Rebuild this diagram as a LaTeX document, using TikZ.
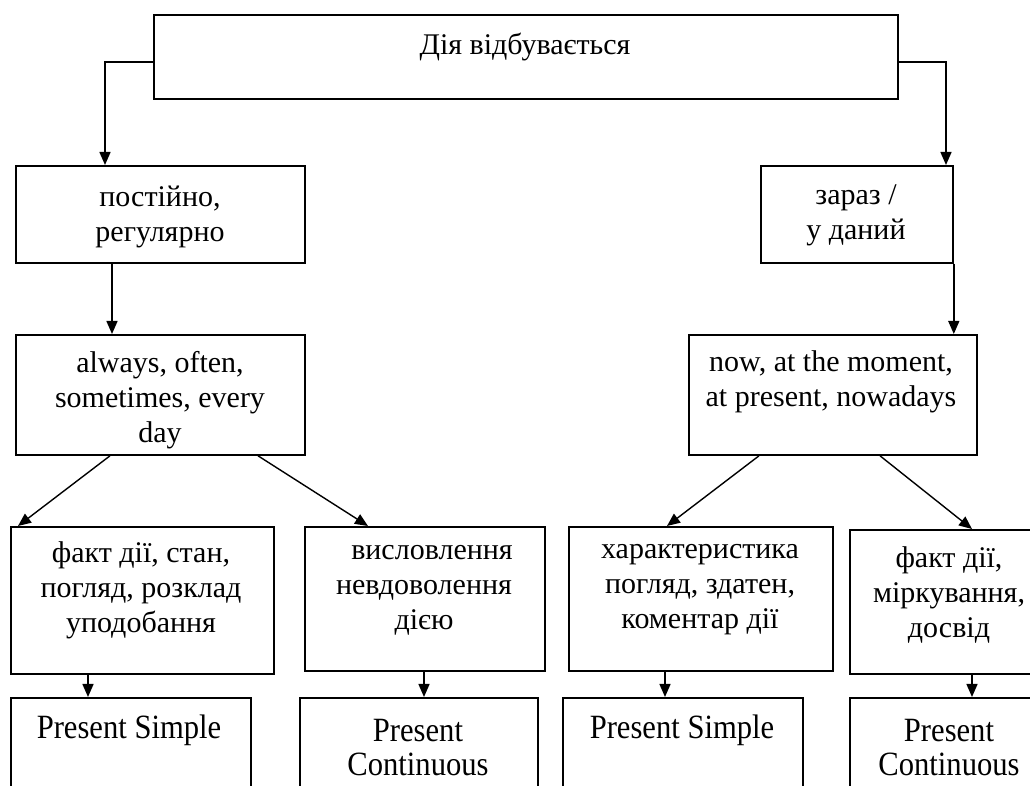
\documentclass[tikz,border=0pt]{standalone}
\usepackage{fontspec}
\setmainfont{Liberation Serif}
\newfontfamily\tensefont[FakeStretch=0.9]{Liberation Serif}
\usetikzlibrary{arrows.meta}
\tikzset{
  box/.style={draw, line width=.9pt, inner sep=0pt, anchor=north west},
  txt/.style={align=center, inner sep=0pt, font=\fontsize{15}{17.5}\selectfont},
  big/.style={align=center, inner sep=0pt, font=\tensefont\fontsize{17}{17}\selectfont},
}
\begin{document}
\begin{tikzpicture}[x=.5pt, y=-.5pt, line width=.7pt, >={Triangle[length=6.5pt,width=5.5pt]}]
\useasboundingbox (0,0) rectangle (1030,786);
\node[box, minimum width=372pt, minimum height=42pt] (act) at (153,14) {};
\node[txt] (act-t) at (525,47) {Дія відбувається};

\node[box, minimum width=144.5pt, minimum height=48.5pt] (reg) at (15,165) {};
\node[txt] (reg-t) at (160,217) {постійно,\\регулярно};
\node[box, minimum width=96pt, minimum height=48.5pt] (now1) at (760,165) {};
\node[txt] (now1-t) at (856,215) {зараз /\\у даний};

\node[box, minimum width=144.5pt, minimum height=60pt] (adv1) at (15,334) {};
\node[txt] (adv1-t) at (160,400) {always, often,\\sometimes, every\\day};
\node[box, minimum width=144pt, minimum height=60pt] (adv2) at (688,334) {};
\node[txt] (adv2-t) at (831,382) {now, at the moment,\\at present, nowadays};

\node[box, minimum width=131.5pt, minimum height=73.5pt] (use1) at (10,526) {};
\node[txt] (use1-t) at (141,590) {факт дії, стан,\\погляд, розклад\\уподобання};
\node[box, minimum width=120pt, minimum height=72pt] (use2) at (304,526) {};
\node[txt] (use2-t) at (424,590) {\hspace{8pt}висловлення\\невдоволення\\дією};
\node[box, minimum width=132pt, minimum height=72pt] (use3) at (568,526) {};
\node[txt] (use3-t) at (700,590) {характеристика\\погляд, здатен,\\коментар дії};
\node[box, minimum width=100pt, minimum height=72pt] (use4) at (849,529) {};
\node[txt] (use4-t) at (949,595) {факт дії,\\міркування,\\досвід};

\node[box, minimum width=120pt, minimum height=60pt] (tense1) at (10,697) {};
\node[big] (tense1-t) at (129,730) {Present Simple};
\node[box, minimum width=119pt, minimum height=60pt] (tense2) at (299,697) {};
\node[big] (tense2-t) at (418,748) {Present\\Continuous};
\node[box, minimum width=120pt, minimum height=60pt] (tense3) at (562,697) {};
\node[big] (tense3-t) at (682,730) {Present Simple};
\node[box, minimum width=100pt, minimum height=60pt] (tense4) at (849,697) {};
\node[big] (tense4-t) at (949,748) {Present\\Continuous};

\draw[->] (act.west |- 0,62) -| (reg.north -| 105,0);
\draw[->] (act.east |- 0,62) -| (now1.north -| 946,0);
\draw[->] (reg.south -| 112,0) -- (adv1.north -| 112,0);
\draw[->] (now1.south east) -- (adv2.north -| now1.south east);
\draw[->] (adv1.south -| 110,0) -- (use1.north -| 18,0);
\draw[->] (adv1.south -| 258,0) -- (use2.north -| 368,0);
\draw[->] (adv2.south -| 759,0) -- (use3.north -| 667,0);
\draw[->] (adv2.south -| 880,0) -- (use4.north -| 972,0);
\foreach \u/\t/\x in {use1/tense1/88, use2/tense2/424, use3/tense3/665, use4/tense4/972}
  \draw[->] (\u.south -| \x,0) -- (\t.north -| \x,0);
\end{tikzpicture}
\end{document}
